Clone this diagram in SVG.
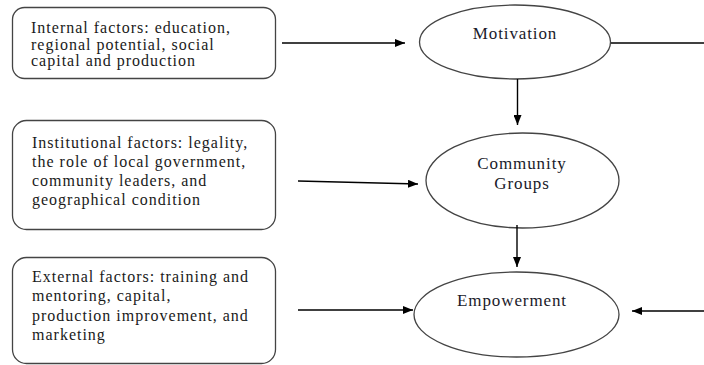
<svg xmlns="http://www.w3.org/2000/svg" width="704" height="365" viewBox="0 0 704 365">
<style>
.box{fill:#fff;stroke:#444;stroke-width:1.3}
.ell{fill:#fff;stroke:#444;stroke-width:1.3}
.t{font-family:"Liberation Serif","Times New Roman",serif;font-size:16px;letter-spacing:1px;fill:#1a1a1a}
.e{font-family:"Liberation Serif","Times New Roman",serif;font-size:17px;letter-spacing:0.9px;fill:#1a1a2a;text-anchor:middle}
.ln{stroke:#000;stroke-width:1.4;fill:none}
</style>
<defs>
<marker id="ah" markerWidth="10" markerHeight="8" refX="10" refY="4" orient="auto" markerUnits="userSpaceOnUse">
<path d="M0,0 L10,4 L0,8 Z" fill="#000"/>
</marker>
</defs>
<rect width="704" height="365" fill="#fff"/>
<g id="internal">
<rect class="box" x="12.5" y="7.5" width="263" height="71" rx="12"/>
<text class="t" x="31" y="33">Internal factors: education,</text>
<text class="t" x="31" y="49.5">regional potential, social</text>
<text class="t" x="31" y="66">capital and production</text>
</g>
<g id="institutional">
<rect class="box" x="12.5" y="120.5" width="263" height="109" rx="14"/>
<text class="t" x="32" y="148">Institutional factors: legality,</text>
<text class="t" x="32" y="167">the role of local government,</text>
<text class="t" x="32" y="186">community leaders, and</text>
<text class="t" x="32" y="205">geographical condition</text>
</g>
<g id="external">
<rect class="box" x="12.5" y="257.5" width="263" height="106" rx="14"/>
<text class="t" x="32" y="282">External factors: training and</text>
<text class="t" x="32" y="301">mentoring, capital,</text>
<text class="t" x="32" y="321">production improvement, and</text>
<text class="t" x="32" y="340">marketing</text>
</g>
<g id="motivation">
<ellipse class="ell" cx="515" cy="42" rx="95.5" ry="37"/>
<text class="e" x="515" y="39">Motivation</text>
</g>
<g id="community">
<ellipse class="ell" cx="522.5" cy="180.5" rx="96.5" ry="47.5"/>
<text class="e" x="522" y="169">Community</text>
<text class="e" x="522" y="189">Groups</text>
</g>
<g id="empowerment">
<ellipse class="ell" cx="516.5" cy="314.5" rx="102.5" ry="42.5"/>
<text class="e" x="512" y="305.5">Empowerment</text>
</g>
<g id="connectors">
<line class="ln" x1="282" y1="43" x2="405" y2="43" marker-end="url(#ah)"/>
<line class="ln" x1="611" y1="43" x2="704" y2="43"/>
<line class="ln" x1="517.5" y1="79" x2="517.5" y2="125" marker-end="url(#ah)"/>
<line class="ln" x1="298" y1="181" x2="418" y2="184" marker-end="url(#ah)"/>
<line class="ln" x1="517" y1="225" x2="517" y2="267" marker-end="url(#ah)"/>
<line class="ln" x1="298" y1="310" x2="413" y2="310" marker-end="url(#ah)"/>
<line class="ln" x1="704" y1="311" x2="632" y2="311" marker-end="url(#ah)"/>
</g>
</svg>
